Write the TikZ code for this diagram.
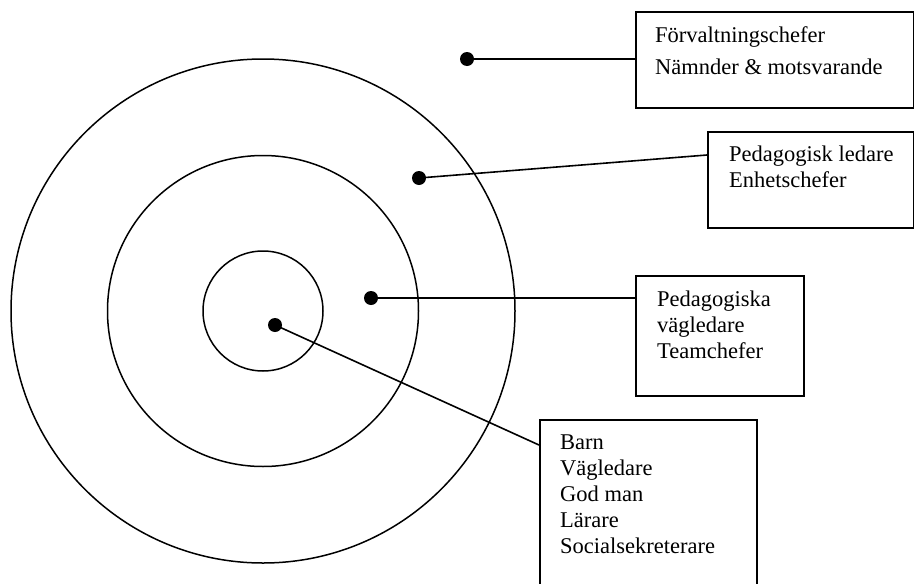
\documentclass[tikz,border=0pt]{standalone}
\usepackage{fontspec}
\setmainfont{Liberation Serif}
\begin{document}
\begin{tikzpicture}[x=1pt,y=-1pt,
  ring/.style={draw=black,line width=1.5pt},
  dotmark/.style={circle,fill=black,inner sep=0pt,minimum size=14pt},
  frame/.style={draw=black,line width=1.6pt,inner sep=0pt,anchor=north west},
  label/.style={anchor=north west,align=left,inner sep=0pt,font=\fontsize{22.5}{26}\selectfont},
  link/.style={line width=1.6pt}]
\useasboundingbox (0,0) rectangle (914,584);
% circles
\coordinate (c) at (263,311);
\draw[ring] (c) circle[radius=252pt];
\draw[ring] (c) circle[radius=155.5pt];
\draw[ring] (c) circle[radius=60pt];
% dots
\node[dotmark] (d1) at (467,59) {};
\node[dotmark] (d2) at (419,178) {};
\node[dotmark] (d3) at (371,298) {};
\node[dotmark] (d4) at (275,325) {};
% boxes
\node[frame,minimum width=278pt,minimum height=96pt] (b1) at (635,11) {};
\node[frame,minimum width=206pt,minimum height=96pt] (b2) at (707,131) {};
\node[frame,minimum width=168pt,minimum height=120pt] (b3) at (635,275) {};
\node[frame,minimum width=217pt,minimum height=200pt] (b4) at (539,419) {};
% texts
\node[label,font=\fontsize{22.5}{32}\selectfont] (t1) at (655,26) {Förvaltningschefer\\Nämnder \& motsvarande};
\node[label] (t2) at (729,146) {Pedagogisk ledare\\Enhetschefer};
\node[label] (t3) at (657,291) {Pedagogiska\\vägledare\\Teamchefer};
\node[label] (t4) at (560,435) {Barn\\Vägledare\\God man\\Lärare\\Socialsekreterare};
% connectors
\coordinate (e1) at (635,59);
\coordinate (e2) at (707,155);
\coordinate (e3) at (635,298);
\coordinate (e4) at (539,445);
\draw[link] (d1.center) -- (e1);
\draw[link] (d2.center) -- (e2);
\draw[link] (d3.center) -- (e3);
\draw[link] (d4.center) -- (e4);
\end{tikzpicture}
\end{document}
